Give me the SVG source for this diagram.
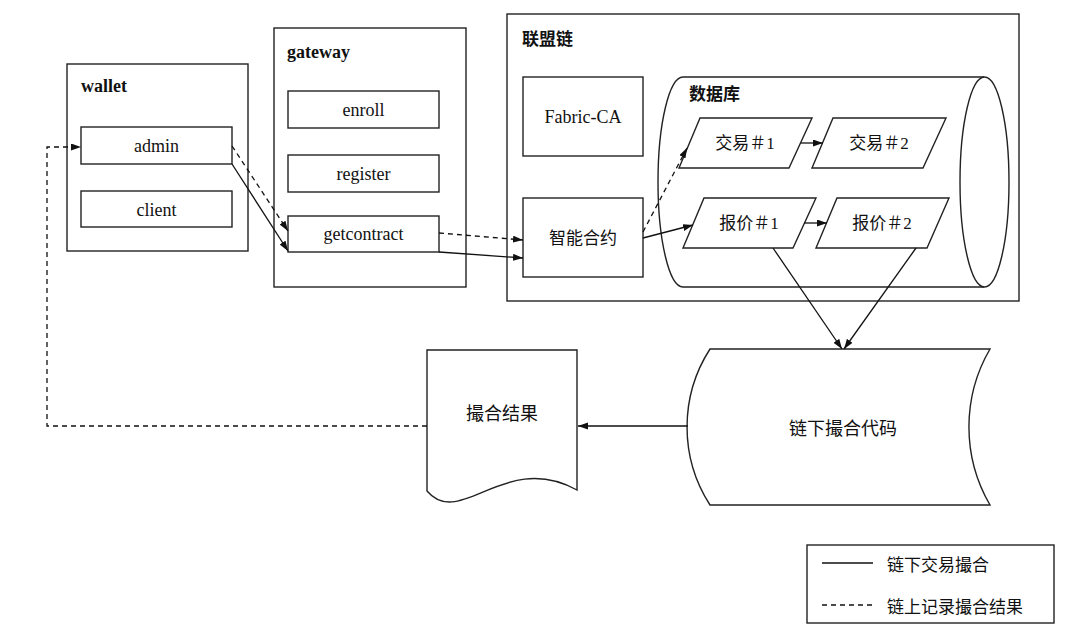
<svg xmlns="http://www.w3.org/2000/svg" width="1080" height="633" viewBox="0 0 1080 633">
<style>
.box{fill:none;stroke:#222;stroke-width:1.4}
.ln{fill:none;stroke:#111;stroke-width:1.3}
.dash{stroke-dasharray:5,4}
.en{font-family:"Liberation Serif",serif;font-size:18px;fill:#111;text-anchor:middle}
.title{font-family:"Liberation Serif",serif;font-size:18px;font-weight:bold;fill:#111}
.zh{font-family:"Liberation Serif","Noto Sans CJK SC",sans-serif;font-size:17px;fill:#111;text-anchor:middle;dominant-baseline:central}
.zhl{font-family:"Noto Sans CJK SC",sans-serif;font-size:17px;fill:#111;dominant-baseline:central}
.zh18{font-family:"Noto Sans CJK SC",sans-serif;font-size:18px;fill:#111;text-anchor:middle;dominant-baseline:central}
</style>
<defs>
<marker id="arr" markerUnits="userSpaceOnUse" markerWidth="11" markerHeight="8" refX="10" refY="3.5" orient="auto">
<path d="M0,0 L10,3.5 L0,7 Z" fill="#111"/>
</marker>
</defs>
<rect width="1080" height="633" fill="#fff"/>

<g id="wallet">
<rect class="box" x="67" y="64" width="181" height="187"/>
<text class="title" x="81" y="92">wallet</text>
</g>
<g id="admin">
<rect class="box" x="81" y="127" width="151" height="37"/>
<text class="en" x="156.5" y="152">admin</text>
</g>
<g id="client">
<rect class="box" x="81" y="191" width="151" height="36"/>
<text class="en" x="156.5" y="216">client</text>
</g>

<g id="gateway">
<rect class="box" x="274" y="28" width="192" height="259"/>
<text class="title" x="287" y="58">gateway</text>
</g>
<g id="enroll">
<rect class="box" x="288" y="91" width="151" height="37"/>
<text class="en" x="363.5" y="116">enroll</text>
</g>
<g id="register">
<rect class="box" x="288" y="155" width="151" height="37"/>
<text class="en" x="363.5" y="180">register</text>
</g>
<g id="getcontract">
<rect class="box" x="288" y="216" width="151" height="36"/>
<text class="en" x="363.5" y="240">getcontract</text>
</g>

<g id="consortium">
<rect class="box" x="507" y="14" width="512" height="287"/>
<text class="zhl" x="522" y="37" font-weight="bold">联盟链</text>
</g>
<g id="fabric-ca">
<rect class="box" x="523" y="77" width="120" height="79"/>
<text class="en" x="583" y="123">Fabric-CA</text>
</g>
<g id="contract">
<rect class="box" x="523" y="198" width="120" height="79"/>
<text class="zh" x="583" y="238">智能合约</text>
</g>

<g id="database">
<path class="box" d="M683,77 L984,77 M683,287 L984,287 M683,77 A25,105 0 0 0 683,287"/>
<ellipse class="box" cx="984.5" cy="182" rx="24.5" ry="105"/>
<text class="zhl" x="689" y="92" font-weight="bold">数据库</text>
</g>
<g id="tx1">
<path class="box" d="M700,118 L812,118 L789,168 L679,168 Z"/>
<text class="zh" x="745" y="143">交易＃1</text>
</g>
<g id="tx2">
<path class="box" d="M833,118 L946,118 L923,168 L812,168 Z"/>
<text class="zh" x="879" y="143">交易＃2</text>
</g>
<g id="quote1">
<path class="box" d="M704,198 L816,198 L793,248 L683,248 Z"/>
<text class="zh" x="749" y="223">报价＃1</text>
</g>
<g id="quote2">
<path class="box" d="M837,198 L949,198 L927,248 L816,248 Z"/>
<text class="zh" x="882" y="223">报价＃2</text>
</g>

<g id="result">
<path class="box" d="M427,491 L427,350 L577,350 L577,490 C505,450 460,530 427,491 Z"/>
<text class="zh18" x="502" y="412">撮合结果</text>
</g>
<g id="offchain">
<path class="box" d="M710,349 L990,349 A155,155 0 0 0 990,505 L710,505 A144,144 0 0 1 710,349 Z"/>
<text class="zh18" x="843" y="427">链下撮合代码</text>
</g>

<g id="connectors">
<path class="ln dash" d="M427,426 L47,426 L47,147 L81,147" marker-end="url(#arr)"/>
<path class="ln dash" d="M232,146 L288,231" marker-end="url(#arr)"/>
<path class="ln" d="M232,164 L288,251" marker-end="url(#arr)"/>
<path class="ln dash" d="M439,233 L523,240" marker-end="url(#arr)"/>
<path class="ln" d="M439,252 L523,258" marker-end="url(#arr)"/>
<path class="ln dash" d="M643,232 L687,148" marker-end="url(#arr)"/>
<path class="ln" d="M643,238 L693,225" marker-end="url(#arr)"/>
<path class="ln" d="M801,143 L823,143" marker-end="url(#arr)"/>
<path class="ln" d="M804,223 L827,223" marker-end="url(#arr)"/>
<path class="ln" d="M773,248 L842,349" marker-end="url(#arr)"/>
<path class="ln" d="M916,248 L844,349" marker-end="url(#arr)"/>
<path class="ln" d="M688,426 L578,426" marker-end="url(#arr)"/>
</g>

<g id="legend">
<rect class="box" x="807" y="545" width="247" height="78"/>
<line class="ln" x1="822" y1="563" x2="873" y2="563"/>
<text class="zhl" x="887" y="563" font-size="17">链下交易撮合</text>
<line class="ln dash" x1="822" y1="605" x2="873" y2="605"/>
<text class="zhl" x="887" y="605" font-size="17">链上记录撮合结果</text>
</g>
</svg>
